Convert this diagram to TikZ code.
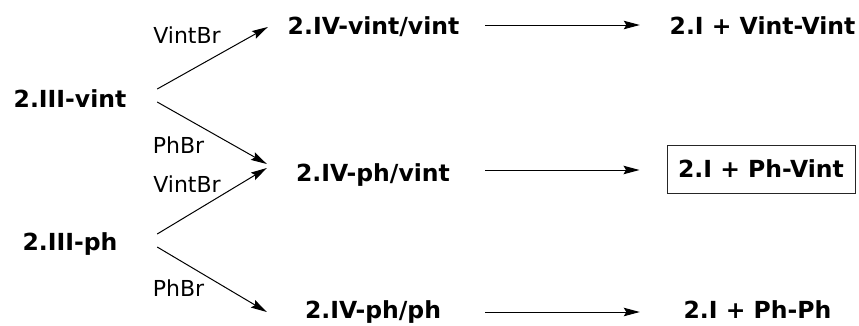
\documentclass[tikz,border=0pt]{standalone}
\usepackage{fontspec}
\setmainfont{DejaVu Sans}
\usetikzlibrary{arrows.meta,calc}
\begin{document}
\begin{tikzpicture}[x=1pt,y=-1pt,
  chem/.style={font=\fontsize{23.5}{27}\selectfont\bfseries,inner sep=0pt,anchor=base},
  lbl/.style={font=\fontsize{22}{25}\selectfont,inner sep=0pt,anchor=base},
  arr/.style={line width=1pt,-{Stealth[length=16pt,width=8.5pt,inset=2.5pt]}},
  framed/.style={draw=black!85,line width=1pt,minimum width=188pt,minimum height=48pt,inner sep=0pt,anchor=center}]
\useasboundingbox (0,0) rectangle (859,325);
% source species
\node[chem,minimum width=124pt] (a) at (70,107) {2.III-vint};
\node[chem,minimum width=96pt] (d) at (70,250) {2.III-ph};
% intermediates
\node[chem,minimum width=177pt] (b) at (373.5,34) {2.IV-vint/vint};
\node[chem,minimum width=160pt] (c) at (373,181) {2.IV-ph/vint};
\node[chem,minimum width=140pt] (e) at (373,318) {2.IV-ph/ph};
% products
\node[chem,minimum width=188pt] (f) at (762.5,34) {2.I + Vint-Vint};
\node[chem,framed] (g) at (761,169) {2.I + Ph-Vint};
\node[chem,minimum width=155pt] (h) at (757.5,318) {2.I + Ph-Ph};
% branch labels
\node[lbl] (l1) at (187,43) {VintBr};
\node[lbl] (l2) at (178.5,153) {PhBr};
\node[lbl] (l3) at (187,192) {VintBr};
\node[lbl] (l4) at (178.5,296) {PhBr};
% diagonal arrows
\draw[arr] ($(a.base east)+(25,-18)$) -- ($(b.base west)+(-17,-7)$);
\draw[arr] ($(a.base east)+(25,-5)$) -- ($(c.base west)+(-26,-17)$);
\draw[arr] ($(d.base east)+(39,-16)$) -- ($(c.base west)+(-26,-13)$);
\draw[arr] ($(d.base east)+(39,-3)$) -- ($(e.base west)+(-36,-6)$);
% horizontal arrows
\draw[arr] ($(b.base east)+(23,-9)$) -- ($(f.base west)+(-28.5,-9)$);
\draw[arr] ($(c.base east)+(32,-11)$) -- ($(g.west)+(-27,1)$);
\draw[arr] ($(e.base east)+(42,-6)$) -- ($(h.base west)+(-40,-6)$);
\end{tikzpicture}
\end{document}
